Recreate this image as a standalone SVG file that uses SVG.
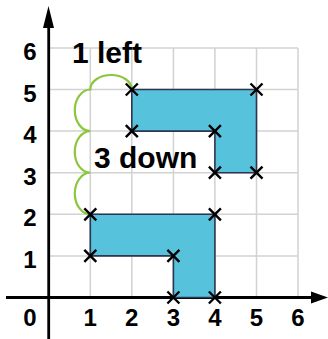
<svg xmlns="http://www.w3.org/2000/svg" width="328" height="339" viewBox="0 0 328 339">
<style>
.grid{stroke:#d2d2d2;stroke-width:1.5;fill:none}
.axis{stroke:#000;stroke-width:2.8;fill:none}
.shape{fill:#56c2dc;stroke:#2e3550;stroke-width:1.6;stroke-linejoin:miter}
.x{stroke:#000;stroke-width:2.4;fill:none}
.lbl{font-family:"Liberation Sans",Arial,sans-serif;font-weight:bold;font-size:24px;fill:#000;text-anchor:middle}
.big{font-family:"Liberation Sans",Arial,sans-serif;font-weight:bold;font-size:30px;fill:#000}
.move{stroke:#8cc63f;stroke-width:2.2;fill:none}
</style>
<defs>
<path id="cross" class="x" d="M-6,-6L6,6M-6,6L6,-6"/>
</defs>
<g id="grid" class="grid">
<path d="M90.3,47.9V297.5M131.8,47.9V297.5M173.4,47.9V297.5M214.9,47.9V297.5M256.5,47.9V297.5M298,47.9V297.5"/>
<path d="M48.7,255.9H298M48.7,214.3H298M48.7,172.7H298M48.7,131.1H298M48.7,89.5H298M48.7,47.9H298"/>
</g>
<g id="axes">
<path class="axis" d="M48.7,339V24"/>
<polygon points="48.5,6 43,28 54,28" fill="#000"/>
<path class="axis" d="M6,297.5H314"/>
<polygon points="328,297.5 311,291.5 311,303.5" fill="#000"/>
</g>
<g id="axis-labels">
<text class="lbl" x="30" y="60">6</text>
<text class="lbl" x="30" y="101.5">5</text>
<text class="lbl" x="30" y="143">4</text>
<text class="lbl" x="30" y="184.5">3</text>
<text class="lbl" x="30" y="226">2</text>
<text class="lbl" x="30" y="267.5">1</text>
<text class="lbl" x="30" y="326">0</text>
<text class="lbl" x="90.3" y="326">1</text>
<text class="lbl" x="131.8" y="326">2</text>
<text class="lbl" x="173.4" y="326">3</text>
<text class="lbl" x="214.9" y="326">4</text>
<text class="lbl" x="256.5" y="326">5</text>
<text class="lbl" x="298" y="326">6</text>
</g>
<g id="shape-upper">
<polygon class="shape" points="131.8,89.5 256.5,89.5 256.5,172.7 214.9,172.7 214.9,131.1 131.8,131.1"/>
</g>
<g id="shape-lower">
<polygon class="shape" points="90.3,214.3 214.9,214.3 214.9,297.5 173.4,297.5 173.4,255.9 90.3,255.9"/>
</g>
<g id="connectors">
<path class="move" d="M131.8,89.5A20.75,14.5 0 0 0 90.3,89.5A15.5,20.8 0 0 0 90.3,131.1A15.5,20.8 0 0 0 90.3,172.7A15.5,20.8 0 0 0 90.3,214.3"/>
</g>
<g id="crosses">
<use href="#cross" x="131.8" y="89.5"/>
<use href="#cross" x="256.5" y="89.5"/>
<use href="#cross" x="131.8" y="131.1"/>
<use href="#cross" x="214.9" y="131.1"/>
<use href="#cross" x="214.9" y="172.7"/>
<use href="#cross" x="256.5" y="172.7"/>
<use href="#cross" x="90.3" y="214.3"/>
<use href="#cross" x="214.9" y="214.3"/>
<use href="#cross" x="90.3" y="255.9"/>
<use href="#cross" x="173.4" y="255.9"/>
<use href="#cross" x="173.4" y="297.5"/>
<use href="#cross" x="214.9" y="297.5"/>
</g>
<g id="label-left">
<text class="big" x="72" y="63">1 left</text>
</g>
<g id="label-down">
<text class="big" x="94" y="168">3 down</text>
</g>
</svg>
